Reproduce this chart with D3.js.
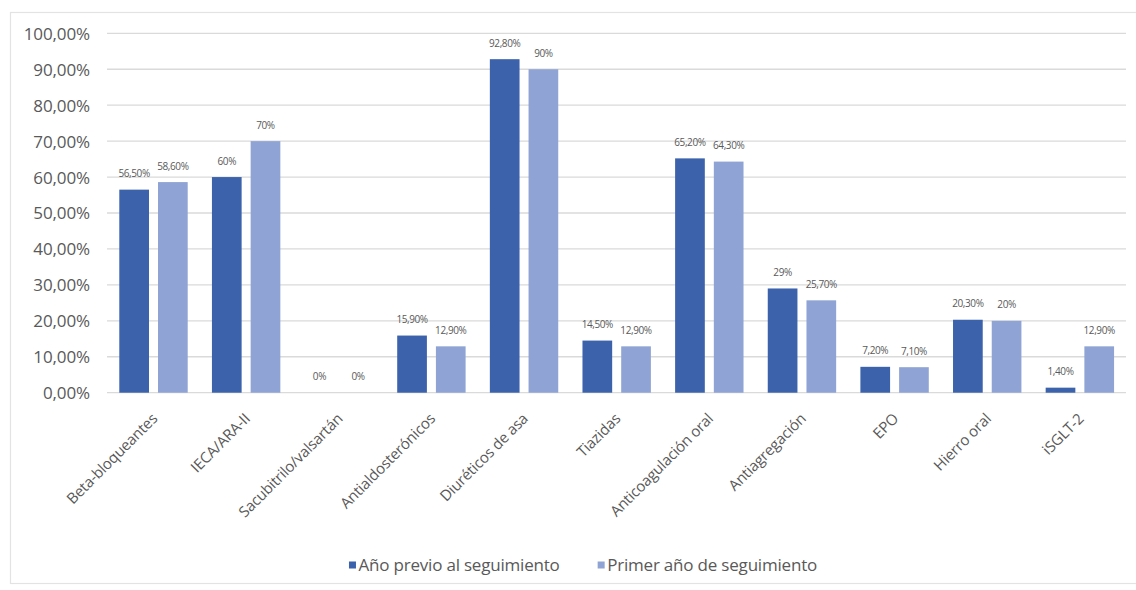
<!DOCTYPE html>
<html>
<head>
<meta charset="utf-8">
<script src="https://cdn.jsdelivr.net/npm/d3@7"></script>
<style>
  html, body { margin: 0; padding: 0; background: #ffffff; }
  svg { display: block; }
</style>
</head>
<body>
<svg id="chart" width="1136" height="590"></svg>
<script>
// ---- data ----
const categories = ["Beta-bloqueantes", "IECA/ARA-II", "Sacubitrilo/valsartán", "Antialdosterónicos",
  "Diuréticos de asa", "Tiazidas", "Anticoagulación oral", "Antiagregación", "EPO", "Hierro oral", "iSGLT-2"];
const seriesNames = ["Año previo al seguimiento", "Primer año de seguimiento"];
const prevYear = [56.5, 60, 0, 15.9, 92.8, 14.5, 65.2, 29, 7.2, 20.3, 1.4];
const firstYear = [58.6, 70, 0, 12.9, 90, 12.9, 64.3, 25.7, 7.1, 20, 12.9];
const yTicks = [0, 10, 20, 30, 40, 50, 60, 70, 80, 90, 100];
const seriesColors = ["#3B62AB", "#8FA4D4"];

// ---- layout ----
const svg = d3.select("#chart");
const plot = { left: 107, right: 1126, top: 33.3, bottom: 392.7 };
const font = "'Open Sans', Lato, sans-serif";

// chart border
svg.append("rect").attr("x", 10.5).attr("y", 12.5).attr("width", 1140).attr("height", 571)
  .attr("fill", "none").attr("stroke", "#e3e3e3").attr("stroke-width", 1.2);

const x0 = d3.scaleBand().domain(categories).range([plot.left, plot.right]).padding(0);
const x1 = d3.scaleBand().domain([0, 1]).range([12.3, 80.7]).paddingInner(0.233).paddingOuter(0);
const y = d3.scaleLinear().domain([0, 100]).range([plot.bottom, plot.top]);

// gridlines
svg.append("g").selectAll("line").data(yTicks).join("line")
  .attr("x1", plot.left).attr("x2", plot.right)
  .attr("y1", d => y(d)).attr("y2", d => y(d))
  .attr("stroke", "#dadada").attr("stroke-width", 1.3);

// y axis labels
const yAxis = d3.axisLeft(y).tickValues(yTicks).tickSize(0).tickPadding(0)
  .tickFormat(d => d + ",00%");
const yg = svg.append("g").attr("transform", `translate(90,0)`).call(yAxis);
yg.select(".domain").remove();
yg.selectAll("text").attr("font-family", font).attr("font-size", 17).attr("fill", "#595959")
  .attr("letter-spacing", -0.1)
  .attr("dy", "0.35em");

// bars
const rows = categories.map((c, i) => ({ cat: c, vals: [prevYear[i], firstYear[i]] }));
const fmt = v => (Number.isInteger(v) ? v + "%" : v.toFixed(2).replace(".", ",") + "%");

const groups = svg.append("g").selectAll("g").data(rows).join("g")
  .attr("transform", d => `translate(${x0(d.cat)},0)`);

groups.selectAll("rect").data(d => d.vals.map((v, s) => ({ v, s }))).join("rect")
  .attr("x", d => x1(d.s)).attr("width", x1.bandwidth())
  .attr("y", d => y(d.v)).attr("height", d => y(0) - y(d.v))
  .attr("fill", d => seriesColors[d.s]);

groups.selectAll("text").data(d => d.vals.map((v, s) => ({ v, s }))).join("text")
  .attr("x", d => x1(d.s) + x1.bandwidth() / 2)
  .attr("y", d => y(d.v) - 12.5)
  .attr("text-anchor", "middle")
  .attr("font-family", font).attr("font-size", 10).attr("fill", "#595959")
  .attr("letter-spacing", -0.4)
  .text(d => fmt(d.v));

// x axis labels
const xAxis = d3.axisBottom(x0).tickSize(0).tickPadding(0);
const xg = svg.append("g").attr("transform", `translate(0,${plot.bottom})`).call(xAxis);
xg.select(".domain").remove();
xg.selectAll("text")
  .attr("font-family", font).attr("font-size", 15).attr("fill", "#595959")
  .attr("letter-spacing", -0.2)
  .attr("text-anchor", "end")
  .attr("dy", null).attr("y", null)
  .attr("transform", "translate(5,27) rotate(-45)");

// legend
const legend = svg.append("g");
const items = legend.selectAll("g").data(seriesNames).join("g");
items.append("rect").attr("width", 7).attr("height", 7).attr("y", -6.5)
  .attr("fill", (d, i) => seriesColors[i]);
items.append("text").attr("x", 9.5).attr("y", 0).attr("dy", "0.15em")
  .attr("font-family", font).attr("font-size", 17).attr("fill", "#595959")
  .attr("letter-spacing", -0.2)
  .text(d => d);
const widths = [];
items.each(function () { widths.push(this.getBBox().width); });
const gap = 38;
const total = widths.reduce((a, b) => a + b, 0) + gap * (widths.length - 1);
const start = 583 - total / 2;
items.attr("transform", (d, i) => {
  const tx = start + widths.slice(0, i).reduce((a, b) => a + b, 0) + gap * i;
  return `translate(${tx},568)`;
});
</script>
</body>
</html>
